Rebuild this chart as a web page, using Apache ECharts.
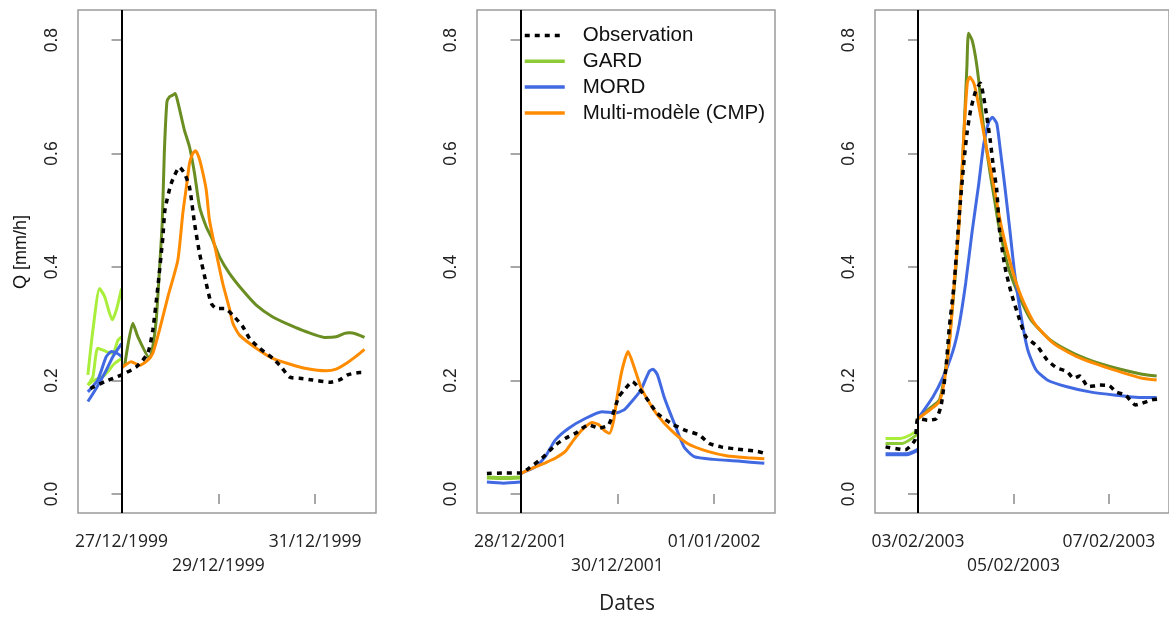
<!DOCTYPE html>
<html>
<head>
<meta charset="utf-8">
<script src="https://cdn.jsdelivr.net/npm/echarts@6/dist/echarts.min.js"></script>
<style>html,body{margin:0;padding:0;background:#fff}#c{width:1169px;height:617px}</style>
</head>
<body>
<div id="c"></div>
<script>
// ---- tick positions (hours after forecast start) and labels ----
const TICK_HOURS = [0, 48, 96];
const p1Dates = ['27/12/1999', '29/12/1999', '31/12/1999'];
const p2Dates = ['28/12/2001', '30/12/2001', '01/01/2002'];
const p3Dates = ['03/02/2003', '05/02/2003', '07/02/2003'];
const yTicks = [0, 0.2, 0.4, 0.6, 0.8];
const legendNames = ['Observation', 'GARD', 'MORD', 'Multi-modèle (CMP)'];

// ---- Panel 1 (27/12/1999) : [hours, Q mm/h] ----
const p1Obs = [[-15.5,0.186],[-8.4,0.198],[0,0.210],[7.3,0.224],[13.0,0.248],[15.5,0.289],[18.0,0.365],[20.5,0.453],[21.5,0.500],[24.6,0.547],[28.8,0.576],[31.2,0.565],[33.7,0.541],[36.2,0.477],[38.7,0.424],[42.0,0.371],[44.5,0.336],[47.0,0.327],[51.1,0.327],[55.2,0.315],[60.1,0.295],[63.5,0.274],[68.4,0.257],[75.0,0.239],[79.2,0.224],[83.3,0.206],[88.3,0.204],[94.8,0.201],[103.1,0.197],[108.1,0.201],[112.2,0.210],[118.0,0.214],[121.0,0.214]];
const p1Gard = [[1.5,0.225],[5.6,0.301],[8.1,0.277],[13.9,0.239],[15.5,0.260],[17.2,0.307],[18.8,0.395],[20.2,0.480],[21.2,0.600],[22.5,0.691],[23.8,0.700],[25.4,0.703],[26.6,0.706],[27.9,0.691],[29.6,0.665],[31.2,0.641],[33.7,0.612],[36.2,0.565],[38.7,0.506],[42.0,0.471],[44.5,0.453],[48.6,0.418],[53.5,0.389],[60.1,0.359],[66.8,0.333],[75.0,0.312],[83.3,0.298],[91.6,0.286],[100.6,0.276],[106.4,0.277],[110.6,0.283],[113.0,0.284],[116.4,0.282],[120.5,0.276]];
const p1Cmp = [[0,0.222],[4.8,0.233],[8.9,0.227],[13.0,0.236],[15.5,0.248],[18.8,0.289],[23.0,0.348],[27.9,0.412],[30.4,0.495],[32.6,0.553],[33.7,0.583],[35.3,0.600],[36.7,0.605],[38.3,0.594],[40.0,0.571],[42.0,0.536],[43.6,0.483],[47.0,0.424],[50.2,0.371],[53.5,0.327],[55.2,0.301],[58.5,0.280],[66.8,0.257],[75.0,0.239],[83.3,0.229],[91.6,0.221],[101.5,0.217],[106.4,0.220],[111.4,0.230],[116.4,0.243],[120.5,0.255]];
const p1PreGardA = [[-16.7,0.210],[-14.2,0.289],[-10.9,0.362],[-8.4,0.348],[-4.6,0.307],[-2.6,0.324],[0,0.362]];
const p1PreGardB = [[-16.7,0.192],[-14.2,0.207],[-11.8,0.257],[-7.6,0.251],[-4.3,0.248],[-1.8,0.271],[0,0.277]];
const p1PreGardC = [[-16.7,0.192],[-13.4,0.201],[-9.3,0.207],[-6.8,0.216],[-3.5,0.230],[0,0.239]];
const p1PreMordA = [[-16.7,0.180],[-11.8,0.201],[-7.6,0.242],[-5.1,0.251],[-2.3,0.248],[0,0.242]];
const p1PreMordB = [[-16.7,0.163],[-12.6,0.186],[-7.6,0.218],[-4.3,0.242],[0,0.265]];

// ---- Panel 2 (28/12/2001) ----
const p2Obs = [[-16.7,0.036],[-8.4,0.037],[0,0.037],[4.0,0.045],[10.6,0.063],[17.2,0.086],[22.2,0.098],[27.2,0.107],[33.8,0.122],[38.8,0.116],[43.7,0.122],[48.7,0.171],[51.3,0.183],[55.5,0.198],[58.8,0.186],[63.0,0.166],[67.9,0.142],[74.5,0.125],[81.1,0.113],[88.6,0.104],[93.6,0.089],[99.4,0.083],[107.7,0.079],[117.6,0.075],[120.7,0.072]];
const p2Mord = [[0,0.036],[7.3,0.048],[12.3,0.066],[17.2,0.095],[23.9,0.116],[32.1,0.133],[40.4,0.145],[47.1,0.143],[51.2,0.148],[53.7,0.157],[59.6,0.183],[63.8,0.216],[65.7,0.220],[67.9,0.210],[71.2,0.171],[76.2,0.125],[81.1,0.083],[86.1,0.066],[96.0,0.061],[107.7,0.058],[120.9,0.054]];
const p2Cmp = [[0,0.036],[5.6,0.045],[12.3,0.055],[17.2,0.063],[22.2,0.075],[26.3,0.095],[30.5,0.113],[35.4,0.126],[38.8,0.122],[41.2,0.113],[44.1,0.107],[46.2,0.130],[47.9,0.171],[50.3,0.218],[53.3,0.251],[56.3,0.224],[59.6,0.189],[63.0,0.166],[67.9,0.139],[74.5,0.113],[82.8,0.089],[92.8,0.075],[102.7,0.067],[112.6,0.064],[120.9,0.062]];
const p2PreGard = [[-16.7,0.029],[-8.4,0.028],[0,0.029]];
const p2PreMord = [[-16.7,0.021],[-8.4,0.019],[0,0.021]];

// ---- Panel 3 (03/02/2003) ----
const p3Obs = [[-16.3,0.083],[-6.4,0.078],[-1.5,0.095],[0,0.133],[5.1,0.130],[9.2,0.133],[11.7,0.157],[14.1,0.224],[15.8,0.295],[18.2,0.371],[20.7,0.489],[23.2,0.589],[24.8,0.640],[26.5,0.677],[28.9,0.709],[31.4,0.724],[33.0,0.700],[34.6,0.665],[36.3,0.624],[37.9,0.577],[39.6,0.536],[41.0,0.465],[43.7,0.401],[46.9,0.354],[51.1,0.307],[54.3,0.277],[60.1,0.260],[65.0,0.236],[69.9,0.222],[74.9,0.216],[78.2,0.204],[81.4,0.208],[85.6,0.189],[91.3,0.192],[96.2,0.191],[99.5,0.180],[104.4,0.174],[109.4,0.157],[112.7,0.160],[117.6,0.166],[120.2,0.167]];
const p3Gard = [[0,0.133],[5.9,0.151],[10.8,0.166],[13.3,0.207],[15.8,0.271],[19.1,0.400],[22.3,0.577],[24.6,0.753],[25.4,0.812],[27.2,0.800],[28.9,0.771],[30.5,0.730],[32.2,0.671],[33.8,0.624],[36.3,0.565],[38.8,0.512],[40.4,0.477],[45.3,0.401],[50.2,0.354],[56.8,0.307],[66.7,0.271],[78.2,0.248],[91.3,0.230],[102.8,0.219],[112.7,0.211],[120.0,0.208]];
const p3Mord = [[0,0.133],[7.5,0.171],[12.5,0.205],[17.4,0.250],[20.7,0.298],[24.0,0.372],[27.2,0.462],[30.5,0.545],[33.0,0.615],[35.5,0.655],[37.4,0.664],[39.6,0.653],[41.2,0.612],[43.7,0.541],[46.2,0.465],[48.6,0.389],[51.9,0.312],[55.2,0.254],[59.3,0.219],[65.0,0.201],[74.9,0.189],[86.4,0.180],[99.5,0.174],[111.0,0.170],[120.0,0.170]];
const p3Cmp = [[0,0.133],[5.9,0.148],[10.8,0.163],[13.3,0.200],[15.8,0.265],[18.2,0.370],[20.7,0.477],[23.2,0.641],[24.8,0.724],[26.0,0.735],[28.1,0.724],[29.7,0.700],[32.2,0.653],[34.6,0.606],[37.9,0.547],[42.0,0.470],[46.9,0.401],[51.9,0.348],[58.5,0.301],[68.3,0.265],[79.8,0.242],[91.3,0.227],[102.8,0.214],[112.7,0.204],[120.0,0.201]];
const p3PreGardA = [[-16.3,0.098],[-8.9,0.098],[-3.9,0.104],[0,0.113]];
const p3PreGardB = [[-16.3,0.089],[-8.0,0.089],[0,0.106]];
const p3PreMord = [[-16.3,0.070],[-5.6,0.070],[0,0.078]];

// ---- styling ----
const C_OBS = '#000000', C_GARD = '#6B8E23', C_MORD = '#4169E1', C_CMP = '#FF8C00';
const C_PRE_GARD = '#A9EE3A', C_LEG_GARD = '#8CCB35';
const X_MIN = -21.6, X_MAX = 126.2, Y_MIN = -0.0335, Y_MAX = 0.853;
const gridLefts = [78, 477, 875];
const panelDates = [p1Dates, p2Dates, p3Dates];
const SANS = "'Liberation Sans', Arial, sans-serif";
const OPEN = "'Open Sans', sans-serif";

const chart = echarts.init(document.getElementById('c'), null, {renderer: 'canvas'});

const grids = gridLefts.map(l => ({
  left: l, top: 10, width: 298, height: 503,
  show: true, borderColor: '#9a9a9a', borderWidth: 1.5, backgroundColor: 'transparent'
}));

const xAxes = panelDates.map((labels, i) => ({
  type: 'value', gridIndex: i, min: X_MIN, max: X_MAX,
  axisLine: {show: false},
  splitLine: {show: false},
  axisTick: {show: true, customValues: TICK_HOURS, length: 10, inside: false,
             lineStyle: {color: '#8a8a8a', width: 1.5}},
  axisLabel: {
    customValues: TICK_HOURS, margin: 17,
    fontFamily: OPEN, fontSize: 17.5, color: '#222', lineHeight: 24,
    formatter: (v) => {
      const k = TICK_HOURS.indexOf(v);
      if (k < 0) return '';
      return k === 1 ? '\n' + labels[k] : labels[k];
    }
  }
}));

const yAxes = [0, 1, 2].map(i => ({
  type: 'value', gridIndex: i, min: Y_MIN, max: Y_MAX,
  axisLine: {show: false},
  splitLine: {show: false},
  axisTick: {show: true, customValues: yTicks, length: 10, inside: false,
             lineStyle: {color: '#8a8a8a', width: 1.5}},
  axisLabel: {
    customValues: yTicks, rotate: 90, margin: 17,
    fontFamily: SANS, fontSize: 17.5, color: '#222',
    formatter: (v) => v.toFixed(1)
  }
}));

function line(i, name, data, color, extra) {
  return Object.assign({
    type: 'line', name: name, xAxisIndex: i, yAxisIndex: i, data: data,
    showSymbol: false, symbol: 'none', smooth: 0.2,
    lineStyle: {color: color, width: 3}, itemStyle: {color: color},
    silent: true, z: 3
  }, extra || {});
}

function obsLine(i, data) {
  return line(i, 'Observation', data, C_OBS, {
    lineStyle: {color: C_OBS, width: 3.5, type: [5, 5], cap: 'butt'},
    z: 5,
    markLine: {
      silent: true, symbol: ['none', 'none'], label: {show: false},
      lineStyle: {color: '#000', width: 2, type: 'solid'},
      emphasis: {disabled: true},
      data: [{xAxis: 0}]
    }
  });
}

const series = [
  // panel 1
  line(0, 'pre-GARD-1a', p1PreGardA, C_PRE_GARD),
  line(0, 'pre-GARD-1b', p1PreGardB, C_PRE_GARD),
  line(0, 'pre-GARD-1c', p1PreGardC, C_PRE_GARD),
  line(0, 'pre-MORD-1a', p1PreMordA, C_MORD),
  line(0, 'pre-MORD-1b', p1PreMordB, C_MORD),
  line(0, 'GARD', p1Gard, C_GARD),
  line(0, 'Multi-modèle (CMP)', p1Cmp, C_CMP),
  obsLine(0, p1Obs),
  // panel 2
  line(1, 'pre-GARD-2', p2PreGard, C_LEG_GARD, {lineStyle: {color: C_LEG_GARD, width: 4}}),
  line(1, 'pre-MORD-2', p2PreMord, C_MORD),
  line(1, 'MORD', p2Mord, C_MORD),
  line(1, 'Multi-modèle (CMP)', p2Cmp, C_CMP),
  obsLine(1, p2Obs),
  // panel 3
  line(2, 'pre-GARD-3a', p3PreGardA, C_PRE_GARD),
  line(2, 'pre-GARD-3b', p3PreGardB, C_LEG_GARD),
  line(2, 'pre-MORD-3', p3PreMord, C_MORD, {lineStyle: {color: C_MORD, width: 4}}),
  line(2, 'GARD', p3Gard, C_GARD),
  line(2, 'MORD', p3Mord, C_MORD),
  line(2, 'Multi-modèle (CMP)', p3Cmp, C_CMP),
  obsLine(2, p3Obs)
];

chart.setOption({
  animation: false,
  backgroundColor: '#ffffff',
  grid: grids,
  xAxis: xAxes,
  yAxis: yAxes,
  legend: {
    show: true, orient: 'vertical', left: 523, top: 25, padding: 0,
    itemWidth: 40, itemHeight: 14, itemGap: 4.8,
    selectedMode: false,
    itemStyle: {opacity: 0, borderWidth: 0},
    lineStyle: {width: 3.5},
    textStyle: {fontFamily: SANS, fontSize: 20.5, color: '#111',
                lineHeight: 20, padding: [0, 0, 0, 13]},
    data: [
      {name: legendNames[0]},
      {name: legendNames[1], lineStyle: {color: C_LEG_GARD}},
      {name: legendNames[2]},
      {name: legendNames[3]}
    ]
  },
  graphic: [
    {type: 'text', x: 21, y: 252, rotation: Math.PI / 2,
     style: {text: 'Q [mm/h]', font: "18px 'Liberation Sans', Arial, sans-serif", fill: '#111',
             textAlign: 'center', textVerticalAlign: 'middle'}},
    {type: 'text', x: 627, y: 604,
     style: {text: 'Dates', font: "21px 'Open Sans', sans-serif", fill: '#222',
             textAlign: 'center', textVerticalAlign: 'middle'}}
  ],
  series: series
});
</script>
</body>
</html>
